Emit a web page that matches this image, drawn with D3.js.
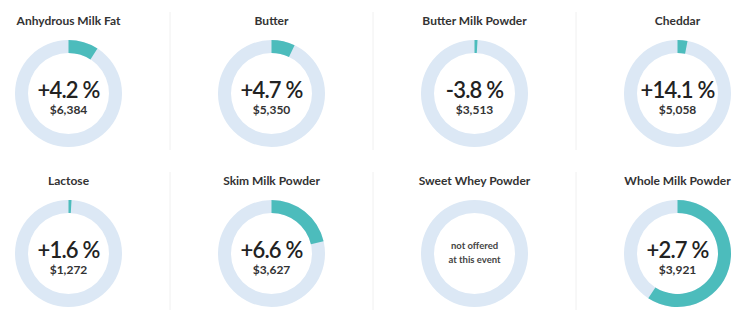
<!DOCTYPE html>
<html><head><meta charset="utf-8">
<script src="https://cdn.jsdelivr.net/npm/d3@7/dist/d3.min.js"></script>
<style>
html,body{margin:0;padding:0;background:#fff;}
svg{display:block;font-family:Lato,"Open Sans",sans-serif;}
</style></head>
<body>
<svg id="chart" width="750" height="322"></svg>
<script>
const products = ["Anhydrous Milk Fat","Butter","Butter Milk Powder","Cheddar","Lactose","Skim Milk Powder","Sweet Whey Powder","Whole Milk Powder"];
const changes = ["+4.2 %","+4.7 %","-3.8 %","+14.1 %","+1.6 %","+6.6 %",null,"+2.7 %"];
const prices = ["$6,384","$5,350","$3,513","$5,058","$1,272","$3,627",null,"$3,921"];
const shares = [0.091,0.071,0.009,0.03,0.009,0.213,0,0.592];
const notOffered = ["not offered","at this event"];

const svg = d3.select("#chart");
const cols = 4;
const colX = d3.scaleLinear().domain([0,1]).range([68.5,271.5]);
const rowY = d3.scaleLinear().domain([0,1]).range([0,160]);
const angle = d3.scaleLinear().domain([0,1]).range([0,2*Math.PI]);
const outerR = 53.5, innerR = 40.5;
const arc = d3.arc().innerRadius(innerR).outerRadius(outerR);

// dividers
for(let r=0;r<2;r++){
  for(let c=0;c<cols-1;c++){
    const x = (colX(c)+colX(c+1))/2;
    svg.append("line").attr("x1",x).attr("x2",x)
      .attr("y1",rowY(r)+12).attr("y2",rowY(r)+150)
      .attr("stroke","#f0f0f0").attr("stroke-width",1);
  }
}

products.forEach((p,i)=>{
  const c = i%cols, r = Math.floor(i/cols);
  const g = svg.append("g").attr("transform",`translate(${colX(c)},${rowY(r)})`);
  g.append("text").attr("x",0).attr("y",25).attr("text-anchor","middle")
    .attr("font-size",12).attr("font-weight",700).attr("fill","#333").text(p);
  const d = g.append("g").attr("transform",`translate(0,93.5)`);
  d.append("path").attr("d",arc({startAngle:0,endAngle:2*Math.PI})).attr("fill","#dce8f5");
  if(shares[i]>0){
    d.append("path").attr("d",arc({startAngle:0,endAngle:angle(shares[i])})).attr("fill","#4cbcbc");
  }
  if(changes[i]){
    d.append("text").attr("x",0).attr("y",4.5).attr("text-anchor","middle")
      .attr("font-size",22).attr("font-weight",600).attr("letter-spacing","-0.8px")
      .attr("fill","#222").text(changes[i]);
    d.append("text").attr("x",0).attr("y",20.5).attr("text-anchor","middle")
      .attr("font-size",12).attr("font-weight",700).attr("fill","#333").text(prices[i]);
  } else {
    notOffered.forEach((t,k)=>{
      d.append("text").attr("x",0).attr("y",-5+k*14).attr("text-anchor","middle")
        .attr("font-size",9.5).attr("font-weight",700).attr("fill","#444").text(t);
    });
  }
});
</script>
</body></html>
